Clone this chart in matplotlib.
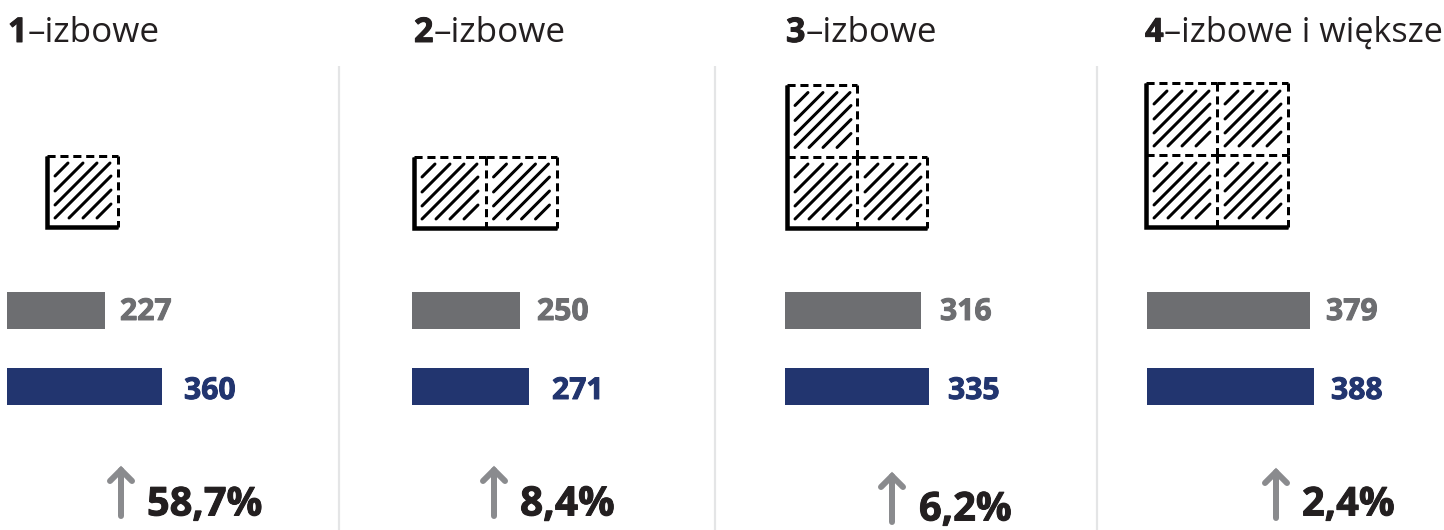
import matplotlib
matplotlib.use('Agg')
import matplotlib.pyplot as plt
import matplotlib.patheffects as pe

plt.rcParams['font.family'] = ['Open Sans', 'DejaVu Sans']

# dane
room_numbers = ['1', '2', '3', '4']
room_labels = ['–izbowe', '–izbowe', '–izbowe', '–izbowe i większe']
grey_values = [227, 250, 316, 379]
navy_values = [360, 271, 335, 388]
change_labels = ['58,7%', '8,4%', '6,2%', '2,4%']

GREY = '#6d6e71'
NAVY = '#22356f'
ARROW = '#8a8b8e'
INK = '#231f20'
PX = 0.72  # 1 px w punktach przy dpi=100

# uklad paneli w pikselach
title_x = [8, 414, 786, 1145]
title_gap = [0, 0, 0, 1]
number_size = [24.5, 24.5, 24.5, 23.5]
title_size = [25.2, 25.2, 25.1, 24.6]
bar_x = [7, 412, 785, 1147]
grey_label_x = [120, 537, 940, 1326]
navy_label_x = [184, 552, 948, 1331]
arrow_x = [121, 494, 892, 1276]
arrow_top = [470, 470, 476, 472]
change_x = [147, 520, 919, 1302]
change_y = [505, 505, 510, 505]
change_size = [28.6, 29.2, 28.6, 28.6]
dividers = [339, 715, 1097]
# plany: poczatek (lewo, dol), rozmiar komorki (szer., wys.), komorki (kolumna, wiersz)
plan_origin = [(47, 227), (414, 228), (787, 228), (1146, 227)]
plan_cell = [(71, 71), (71.5, 71), (70, 71.5), (71, 72)]
plan_cells = [
    [(0, 0)],
    [(0, 0), (1, 0)],
    [(0, 0), (1, 0), (0, 1)],
    [(0, 0), (1, 0), (0, 1), (1, 1)],
]
px_per_unit = 0.431

fig = plt.figure(figsize=(14.44, 5.3), dpi=100)
ax = fig.add_axes([0, 0, 1, 1])
ax.set_xlim(0, 1444)
ax.set_ylim(530, 0)
ax.axis('off')
renderer = fig.canvas.get_renderer()


def bold_text(x, y, s, size, color):
    # Open Sans Bold jest chudszy niz oryginal, wiec lekki obrys
    return ax.text(x, y, s, fontsize=size, fontweight='bold', color=color, va='center',
                   ha='left', path_effects=[pe.withStroke(linewidth=0.7, foreground=color)])


def draw_hatch(x0, y0):
    for c in [43, 28, 14, 1, -13, -27, -41]:
        u0 = max(8, 9 - c)
        u1 = min(64, 64 - c)
        ax.plot([x0 + u0, x0 + u1], [y0 - u0 - c, y0 - u1 - c], color='black',
                lw=3 * PX, solid_capstyle='round')


for i in range(4):
    num = bold_text(title_x[i], 33, room_numbers[i], number_size[i], INK)
    num_end = num.get_window_extent(renderer).x1
    ax.text(num_end + title_gap[i], 33, room_labels[i], fontsize=title_size[i],
            color=INK, va='center', ha='left')

    ox, oy = plan_origin[i]
    w, h = plan_cell[i]
    edges = set()
    for col, row in plan_cells[i]:
        x0 = ox + col * w
        y0 = oy - row * h
        draw_hatch(x0, y0)
        edges.add((x0, y0, x0 + w, y0))
        edges.add((x0, y0 - h, x0 + w, y0 - h))
        edges.add((x0, y0 - h, x0, y0))
        edges.add((x0 + w, y0 - h, x0 + w, y0))
    # wspolne krawedzie rysowane raz, zeby kreski sie nie nakladaly
    for x1, y1, x2, y2 in edges:
        ax.plot([x1, x2], [y1, y2], color='black', lw=3 * PX, dashes=(2.7, 1.6))
    right = ox + w * (max(c[0] for c in plan_cells[i]) + 1)
    top = oy - h * (max(c[1] for c in plan_cells[i]) + 1)
    ax.plot([ox, ox, right], [top, oy, oy], color='black',
            lw=4.5 * PX, solid_joinstyle='miter', solid_capstyle='butt')

    ax.barh(310, grey_values[i] * px_per_unit, height=37, left=bar_x[i], color=GREY)
    ax.barh(386, navy_values[i] * px_per_unit, height=37, left=bar_x[i], color=NAVY)
    bold_text(grey_label_x[i], 312, str(grey_values[i]), 21.7, GREY)
    bold_text(navy_label_x[i], 391, str(navy_values[i]), 21.7, NAVY)

    tip = arrow_top[i]
    ax.plot([arrow_x[i], arrow_x[i]], [tip, tip + 46], color=ARROW, lw=6 * PX,
            solid_capstyle='round')
    ax.plot([arrow_x[i] - 11, arrow_x[i], arrow_x[i] + 11], [tip + 11, tip, tip + 11],
            color=ARROW, lw=6 * PX, solid_capstyle='round', solid_joinstyle='miter')
    bold_text(change_x[i], change_y[i], change_labels[i], change_size[i], INK)

for x in dividers:
    ax.plot([x, x], [66, 530], color='#e4e5e6', lw=2.2 * PX, solid_capstyle='butt')

fig.savefig('out.png', dpi=100)
